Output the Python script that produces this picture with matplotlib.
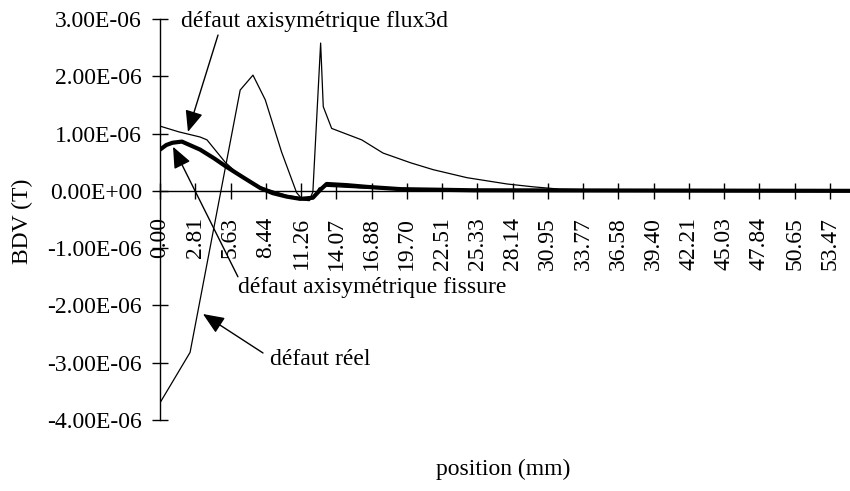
import matplotlib
matplotlib.use("Agg")
import matplotlib.pyplot as plt

plt.rcParams["font.family"] = ["Liberation Serif", "DejaVu Serif"]
plt.rcParams["axes.unicode_minus"] = False

# Position tick labels (mm), one label every 10 samples
tick_labels = ["0.00", "2.81", "5.63", "8.44", "11.26", "14.07", "16.88", "19.70",
               "22.51", "25.33", "28.14", "30.95", "33.77", "36.58", "39.40",
               "42.21", "45.03", "47.84", "50.65", "53.47"]
tick_step_mm = 2.8142

# défaut réel (measured), BDV in units of 1e-6 T
reel_x = [0.0, 2.4, 6.4, 7.42, 8.4, 9.7, 10.9, 11.4, 11.9, 12.3, 12.7, 13.3, 16.0, 20.0, 30.0, 56.0]
reel_y = [-3.70, -2.82, 1.76, 2.02, 1.59, 0.68, -0.03, -0.16, -0.17, -0.10, 0.05, 0.08, 0.05, 0.02, 0.0, 0.0]

# défaut axisymétrique flux3d
flux_x = [0.0, 1.5, 3.2, 3.75, 5.2, 6.4, 8.0, 10.1, 11.5, 11.9, 12.2, 12.82, 13.03, 13.7,
          16.1, 17.8, 20.0, 21.8, 24.5, 27.7, 29.8, 31.9, 36.0, 56.0]
flux_y = [1.13, 1.03, 0.94, 0.89, 0.50, 0.26, 0.07, -0.08, -0.13, -0.17, -0.02, 2.58, 1.47, 1.09,
          0.89, 0.66, 0.49, 0.37, 0.23, 0.12, 0.07, 0.03, 0.01, 0.0]

# défaut axisymétrique fissure
fiss_x = [0.0, 0.5, 1.0, 1.75, 3.2, 4.3, 5.3, 6.6, 8.0, 9.0, 10.1, 11.2, 12.2, 12.8, 13.3,
          14.9, 16.5, 19.2, 25.0, 56.0]
fiss_y = [0.72, 0.80, 0.84, 0.86, 0.72, 0.57, 0.42, 0.24, 0.05, -0.04, -0.10, -0.14, -0.12,
          0.02, 0.12, 0.10, 0.07, 0.03, 0.01, 0.0]

y_ticks = [3e-6, 2e-6, 1e-6, 0.0, -1e-6, -2e-6, -3e-6, -4e-6]

scale = 1e-6
fs = 17

fig = plt.figure(figsize=(8.5, 4.91), dpi=100)
ax = fig.add_axes([160 / 850, 71 / 491, 690 / 850, 401 / 491])

ax.plot(reel_x, [v * scale for v in reel_y], color="black", lw=0.9)
ax.plot(flux_x, [v * scale for v in flux_y], color="black", lw=0.9)
ax.plot(fiss_x, [v * scale for v in fiss_y], color="black", lw=3.0, solid_capstyle="round")

ax.set_xlim(0, 55.07)
ax.set_ylim(-4e-6, 3e-6)

for s in ("top", "right"):
    ax.spines[s].set_visible(False)
ax.spines["bottom"].set_position(("data", 0))
ax.spines["left"].set_linewidth(1.0)
ax.spines["bottom"].set_linewidth(1.0)

ax.set_xticks([i * tick_step_mm for i in range(len(tick_labels))])
ax.set_xticklabels(tick_labels, rotation=90, fontsize=fs, va="top", ha="center")
ax.set_yticks(y_ticks)
ax.set_yticklabels([f"{v:.2E}" for v in y_ticks], fontsize=fs)
ax.tick_params(axis="x", direction="inout", length=12, width=1.0, pad=13)
ax.tick_params(axis="y", direction="inout", length=12, width=1.0, pad=7)

fig.text(22 / 850, 1 - 221 / 491, "BDV (T)", rotation=90, ha="center", va="center", fontsize=fs)
fig.text(503 / 850, 1 - 469 / 491, "position (mm)", ha="center", va="center", fontsize=fs)

arrow = dict(arrowstyle="-|>,head_length=1.0,head_width=0.42", color="black", lw=1.0,
             mutation_scale=13, shrinkA=0, shrinkB=0)

# labels with their arrows (text position, arrow tail, arrow tip)
notes = [
    ("défaut axisymétrique flux3d", (1.68, 2.95e-6), (4.63, 2.72e-6), (2.23, 1.03e-6)),
    ("défaut axisymétrique fissure", (6.22, -1.68e-6), (6.22, -1.50e-6), (1.04, 0.77e-6)),
    ("défaut réel", (8.78, -2.95e-6), (8.22, -2.83e-6), (3.43, -2.15e-6)),
]
for text, pos, tail, tip in notes:
    ax.text(pos[0], pos[1], text, fontsize=fs, ha="left", va="center")
    ax.annotate("", xy=tip, xytext=tail, arrowprops=arrow)

fig.savefig("out.png", dpi=100)
